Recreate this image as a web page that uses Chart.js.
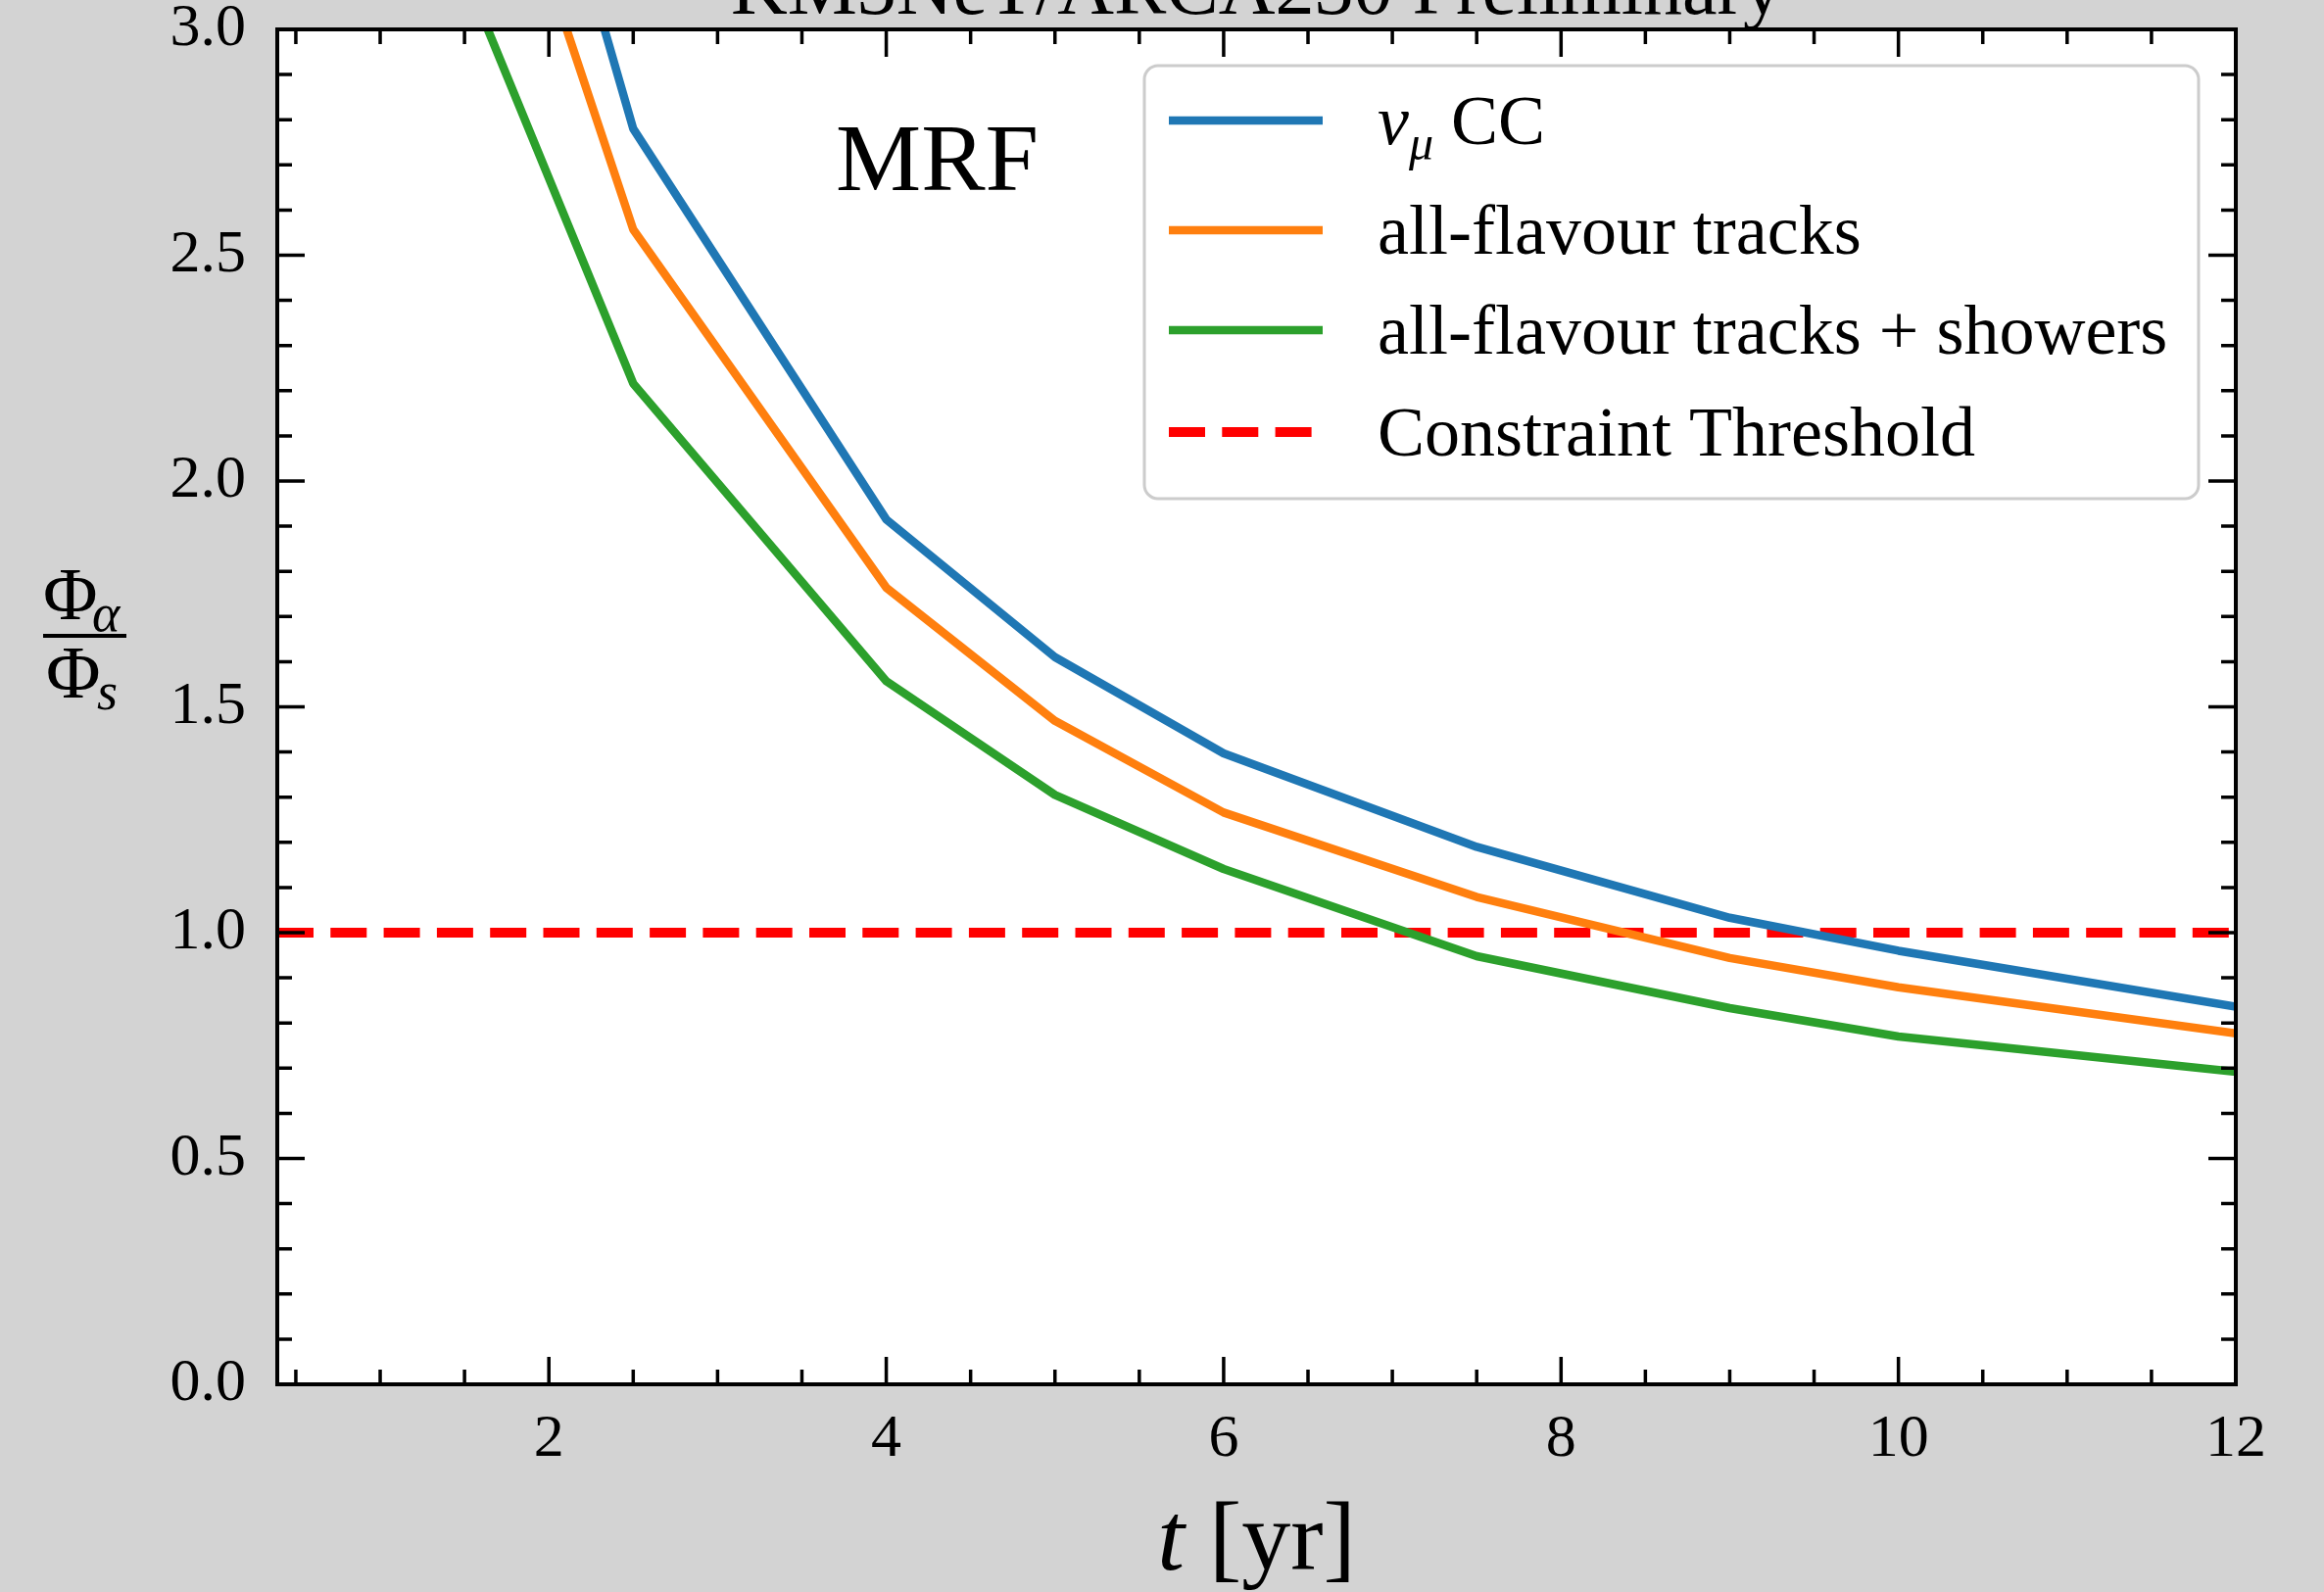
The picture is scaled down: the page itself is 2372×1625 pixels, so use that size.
<!DOCTYPE html>
<html>
<head>
<meta charset="utf-8">
<script src="https://cdn.jsdelivr.net/npm/chart.js@4"></script>
<style>
  html, body { margin: 0; padding: 0; background: #d3d3d3; }
  canvas { display: block; }
</style>
</head>
<body>
<canvas id="mrfChart" width="2372" height="1625"></canvas>
<script>
/* Φα/Φs vs exposure time, MRF */

// ---- data ----
const tYears = [1, 2.5, 4, 5, 6, 7.5, 9, 10, 12];
const numuCC = [4.72, 2.78, 1.915, 1.61, 1.397, 1.19, 1.033, 0.96, 0.836];
const tracks = [4.24, 2.557, 1.764, 1.469, 1.266, 1.079, 0.944, 0.879, 0.777];
const tracksShowers = [3.58, 2.216, 1.557, 1.305, 1.141, 0.948, 0.833, 0.77, 0.692];
const thresholdValue = 1.0;

const seriesLabels = ['ν_μ CC', 'all-flavour tracks', 'all-flavour tracks + showers', 'Constraint Threshold'];
const seriesColors = ['#1f77b4', '#ff7f0e', '#2ca02c', '#ff0000'];

// axis ranges and ticks
const xMin = 0.39, xMax = 12;
const yMin = 0, yMax = 3;
const xTickValues = [2, 4, 6, 8, 10, 12];
const yTickValues = [0, 0.5, 1.0, 1.5, 2.0, 2.5, 3.0];
const xMinorStep = 0.5;
const yMinorStep = 0.1;

const titleText = 'KM3NeT/ARCA230 Preliminary';
const annotationText = 'MRF';

const SERIF = '"Liberation Serif", "DejaVu Serif", serif';

function toPoints(xs, ys) {
    return xs.map((x, i) => ({ x: x, y: ys[i] }));
}

/**
 * Draw text with "_x" subscript parts (e.g. ν_μ)
 */
function drawRichText(ctx, text, x, y, size) {
    const parts = text.split(' ');
    let cx = x;
    parts.forEach((word, wi) => {
        if (wi > 0) {
            ctx.font = `${size}px ${SERIF}`;
            cx += ctx.measureText(' ').width;
        }
        if (word.includes('_')) {
            const [base, sub] = word.split('_');
            ctx.font = `italic ${size}px ${SERIF}`;
            ctx.fillText(base, cx, y);
            cx += ctx.measureText(base).width;
            ctx.font = `italic ${Math.round(size * 0.7)}px ${SERIF}`;
            ctx.fillText(sub, cx, y + size * 0.22);
            cx += ctx.measureText(sub).width;
        } else {
            ctx.font = `${size}px ${SERIF}`;
            ctx.fillText(word, cx, y);
            cx += ctx.measureText(word).width;
        }
    });
}

// grey figure, white axes
const backgroundPlugin = {
    id: 'figureBackground',
    beforeDraw(chart) {
        const { ctx, chartArea: a } = chart;
        ctx.save();
        ctx.fillStyle = '#d3d3d3';
        ctx.fillRect(0, 0, chart.width, chart.height);
        ctx.fillStyle = '#ffffff';
        ctx.fillRect(a.left, a.top, a.right - a.left, a.bottom - a.top);
        ctx.restore();
    }
};

// frame and inward ticks on all four sides
const frameTicksPlugin = {
    id: 'frameTicks',
    afterDatasetsDraw(chart) {
        const { ctx, chartArea: a, scales } = chart;
        const xs = scales.x, ys = scales.y;
        const majorLen = 28, minorLen = 15;
        ctx.save();
        ctx.strokeStyle = '#000';
        ctx.lineWidth = 3.5;
        ctx.beginPath();
        const eps = 1e-6;
        for (let v = Math.ceil(xMin / xMinorStep) * xMinorStep; v <= xMax + eps; v += xMinorStep) {
            const isMajor = xTickValues.some(t => Math.abs(t - v) < eps);
            const len = isMajor ? majorLen : minorLen;
            const px = xs.getPixelForValue(v);
            ctx.moveTo(px, a.bottom); ctx.lineTo(px, a.bottom - len);
            ctx.moveTo(px, a.top); ctx.lineTo(px, a.top + len);
        }
        for (let v = yMin; v <= yMax + eps; v += yMinorStep) {
            const isMajor = yTickValues.some(t => Math.abs(t - v) < eps);
            const len = isMajor ? majorLen : minorLen;
            const py = ys.getPixelForValue(v);
            ctx.moveTo(a.left, py); ctx.lineTo(a.left + len, py);
            ctx.moveTo(a.right, py); ctx.lineTo(a.right - len, py);
        }
        ctx.stroke();
        ctx.lineWidth = 4;
        ctx.strokeRect(a.left, a.top, a.right - a.left, a.bottom - a.top);
        ctx.restore();
    }
};

// title, axis labels, annotation, legend
const annotationsPlugin = {
    id: 'annotations',
    afterDraw(chart) {
        const { ctx, chartArea: a } = chart;
        const midX = (a.left + a.right) / 2;
        ctx.save();
        ctx.fillStyle = '#000';
        ctx.textBaseline = 'alphabetic';

        // title (runs off the top of the figure)
        ctx.textAlign = 'center';
        ctx.font = `80px ${SERIF}`;
        ctx.fillText(titleText, midX, 14);

        // x label: t [yr]
        ctx.textAlign = 'left';
        ctx.font = `italic 100px ${SERIF}`;
        const tW = ctx.measureText('t').width;
        ctx.font = `100px ${SERIF}`;
        const unitW = ctx.measureText(' [yr]').width;
        let lx = midX - (tW + unitW) / 2;
        ctx.font = `italic 100px ${SERIF}`;
        ctx.fillText('t', lx, 1602);
        ctx.font = `100px ${SERIF}`;
        ctx.fillText(' [yr]', lx + tW, 1602);

        // y label: Φα / Φs
        ctx.font = `76px ${SERIF}`;
        ctx.fillText('Φ', 44, 632);
        ctx.fillText('Φ', 47, 712);
        ctx.font = `italic 54px ${SERIF}`;
        ctx.fillText('α', 94, 644);
        ctx.fillText('s', 99, 724);
        ctx.fillRect(44, 647, 85, 4);

        // MRF
        ctx.font = `98px ${SERIF}`;
        ctx.fillText(annotationText, 853, 194);

        // legend
        const box = { left: 1168, top: 67, right: 2244, bottom: 509 };
        ctx.beginPath();
        ctx.roundRect(box.left, box.top, box.right - box.left, box.bottom - box.top, 14);
        ctx.fillStyle = 'rgba(255,255,255,0.8)';
        ctx.fill();
        ctx.strokeStyle = '#cccccc';
        ctx.lineWidth = 3;
        ctx.stroke();

        const rowY = [123, 235, 337, 441];
        chart.data.datasets.forEach((ds, i) => {
            ctx.save();
            ctx.strokeStyle = ds.borderColor;
            ctx.lineWidth = ds.borderWidth;
            ctx.setLineDash(ds.borderDash || []);
            ctx.beginPath();
            ctx.moveTo(1193, rowY[i]);
            ctx.lineTo(1350, rowY[i]);
            ctx.stroke();
            ctx.restore();
            ctx.fillStyle = '#000';
            drawRichText(ctx, ds.label, 1406, rowY[i] + 24, 72);
        });
        ctx.restore();
    }
};

const lineStyle = {
    borderWidth: 8.5,
    pointRadius: 0,
    tension: 0,
    fill: false,
    borderJoinStyle: 'round',
    clip: 0
};

new Chart(document.getElementById('mrfChart').getContext('2d'), {
    type: 'line',
    data: {
        datasets: [
            { ...lineStyle, label: seriesLabels[0], data: toPoints(tYears, numuCC), borderColor: seriesColors[0] },
            { ...lineStyle, label: seriesLabels[1], data: toPoints(tYears, tracks), borderColor: seriesColors[1] },
            { ...lineStyle, label: seriesLabels[2], data: toPoints(tYears, tracksShowers), borderColor: seriesColors[2] },
            {
                ...lineStyle,
                label: seriesLabels[3],
                data: toPoints([xMin, xMax], [thresholdValue, thresholdValue]),
                borderColor: seriesColors[3],
                borderWidth: 10,
                borderDash: [37, 17.3],
                borderCapStyle: 'butt'
            }
        ]
    },
    options: {
        responsive: false,
        animation: false,
        devicePixelRatio: 1,
        layout: { padding: { top: 30, right: 90, left: 0, bottom: 0 } },
        plugins: {
            legend: { display: false },
            tooltip: { enabled: false }
        },
        scales: {
            x: {
                type: 'linear',
                min: xMin,
                max: xMax,
                grid: { display: false, drawTicks: false },
                border: { display: false },
                ticks: {
                    color: '#000',
                    font: { family: SERIF, size: 62 },
                    padding: 20,
                    maxRotation: 0,
                    callback: v => String(v)
                },
                afterBuildTicks: scale => { scale.ticks = xTickValues.map(v => ({ value: v })); },
                afterFit: scale => {
                    scale.height = 212;
                    scale.paddingLeft = 0;
                    scale.paddingRight = 0;
                }
            },
            y: {
                type: 'linear',
                min: yMin,
                max: yMax,
                grid: { display: false, drawTicks: false },
                border: { display: false },
                ticks: {
                    color: '#000',
                    font: { family: SERIF, size: 62 },
                    padding: 32,
                    callback: v => Number(v).toFixed(1)
                },
                afterBuildTicks: scale => { scale.ticks = yTickValues.map(v => ({ value: v })); },
                afterFit: scale => {
                    scale.width = 283;
                    scale.paddingTop = 0;
                    scale.paddingBottom = 0;
                }
            }
        }
    },
    plugins: [backgroundPlugin, frameTicksPlugin, annotationsPlugin]
});
</script>
</body>
</html>
